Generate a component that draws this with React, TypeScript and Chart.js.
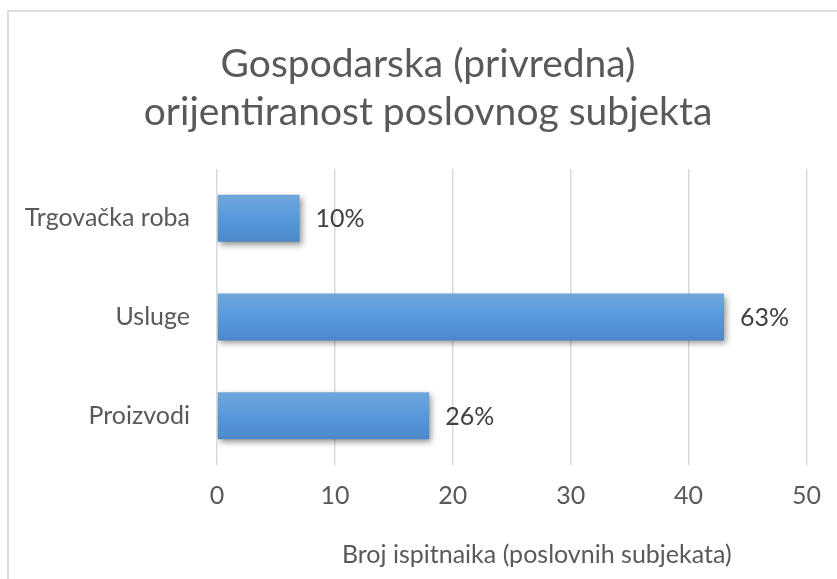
import { useEffect, useRef } from 'react';
import { Chart, registerables } from 'chart.js';

Chart.register(...registerables);

const categories = ['Trgovačka roba', 'Usluge', 'Proizvodi'];
const respondents = [7, 43, 18];
const percentLabels = ['10%', '63%', '26%'];
const xMin = 0;
const xMax = 50;
const xStep = 10;
const titleLines = ['Gospodarska (privredna)', 'orijentiranost poslovnog subjekta'];
const xAxisTitle = 'Broj ispitnaika (poslovnih subjekata)';

const FONT = 'Lato';
const TEXT = '#595959';
const BAR_PCT = 0.476;
const SMALL = 25;

const shadowPlugin = {
  id: 'barShadow',
  beforeDatasetsDraw(chart: any) {
    const ctx = chart.ctx;
    ctx.save();
    ctx.shadowColor = 'rgba(0,0,0,0.42)';
    ctx.shadowBlur = 6;
    ctx.shadowOffsetX = 2;
    ctx.shadowOffsetY = 3;
  },
  afterDatasetsDraw(chart: any) {
    chart.ctx.restore();
  },
};

const labelPlugin = {
  id: 'pctLabels',
  afterDatasetsDraw(chart: any) {
    const ctx = chart.ctx;
    const meta = chart.getDatasetMeta(0);
    ctx.save();
    ctx.font = `${SMALL}px ${FONT}`;
    ctx.fillStyle = '#404040';
    ctx.textAlign = 'left';
    ctx.textBaseline = 'middle';
    meta.data.forEach((bar: any, i: number) => {
      ctx.fillText(percentLabels[i], bar.x + 16, bar.y + 1);
    });
    ctx.restore();
  },
};

const textPlugin = {
  id: 'chartTexts',
  afterDraw(chart: any) {
    const ctx = chart.ctx;
    const area = chart.chartArea;
    ctx.save();
    ctx.fillStyle = TEXT;
    ctx.textAlign = 'center';
    // chart title (centred on the whole chart frame)
    ctx.font = `39px ${FONT}`;
    ctx.textBaseline = 'alphabetic';
    titleLines.forEach((line, i) => {
      ctx.fillText(line, 428, 77 + i * 48);
    });
    // axis title
    ctx.font = `${SMALL}px ${FONT}`;
    ctx.textBaseline = 'middle';
    ctx.fillText(xAxisTitle, (area.left + area.right) / 2 + 25, chart.height - 24);
    ctx.restore();
  },
};

export default function App() {
  const ref = useRef<HTMLCanvasElement | null>(null);

  useEffect(() => {
    if (!ref.current) return;
    const chart = new Chart(ref.current, {
      type: 'bar',
      data: {
        labels: categories,
        datasets: [
          {
            data: respondents,
            backgroundColor: (c: any) => {
              const ch = c.chart;
              if (!ch.chartArea || c.type !== 'data') return '#5b9bd5';
              const y = ch.scales.y;
              const center = y.getPixelForValue(c.dataIndex);
              const half = ((y.bottom - y.top) / categories.length) * BAR_PCT / 2;
              const g = ch.ctx.createLinearGradient(0, center - half, 0, center + half);
              g.addColorStop(0, '#71a6dc');
              g.addColorStop(0.5, '#5699db');
              g.addColorStop(1, '#4a88c9');
              return g;
            },
            borderWidth: 0,
            barPercentage: BAR_PCT,
            categoryPercentage: 1,
          },
        ],
      },
      options: {
        indexAxis: 'y',
        responsive: false,
        animation: false,
        devicePixelRatio: 1,
        layout: { padding: { left: 0, right: 30, top: 169, bottom: 0 } },
        plugins: {
          legend: { display: false },
          tooltip: { enabled: false },
          title: { display: false },
        },
        scales: {
          x: {
            type: 'linear',
            min: xMin,
            max: xMax,
            ticks: {
              stepSize: xStep,
              color: TEXT,
              font: { family: FONT, size: SMALL },
              padding: 16,
            },
            grid: { color: '#d9d9d9', lineWidth: 1.5, drawTicks: false },
            border: { display: false },
            afterFit: (s: any) => {
              s.height = 114;
            },
          },
          y: {
            type: 'category',
            ticks: {
              color: TEXT,
              font: { family: FONT, size: SMALL },
              padding: 27,
            },
            grid: { display: false, drawTicks: false },
            border: { display: false },
            afterFit: (s: any) => {
              s.width = 217;
            },
          },
        },
      },
      plugins: [shadowPlugin, labelPlugin, textPlugin],
    } as any);
    return () => chart.destroy();
  }, []);

  return (
    <div
      style={{
        position: 'absolute',
        left: 0,
        top: 0,
        width: 837,
        height: 579,
        overflow: 'hidden',
        background: '#ffffff',
      }}
    >
      <div
        style={{
          position: 'absolute',
          left: 7,
          top: 10,
          width: 1000,
          height: 1000,
          border: '2px solid #dedede',
          boxSizing: 'border-box',
        }}
      />
      <canvas
        ref={ref}
        width={837}
        height={579}
        style={{ position: 'absolute', left: 0, top: 0, width: 837, height: 579 }}
      />
    </div>
  );
}
